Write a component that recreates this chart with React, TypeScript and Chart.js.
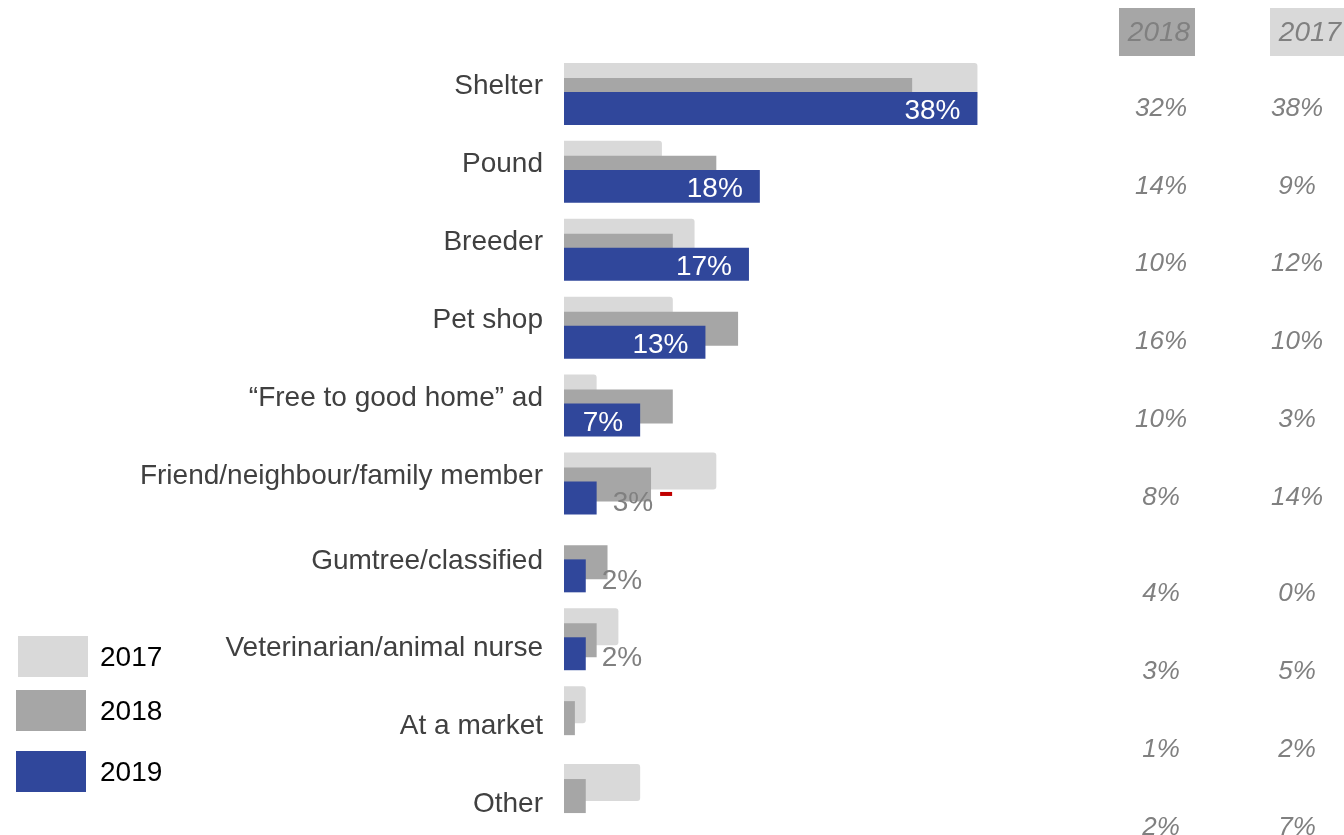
import React, { useEffect, useRef } from 'react';
import { Chart, registerables } from 'chart.js';

Chart.register(...registerables);

const categories = [
  'Shelter',
  'Pound',
  'Breeder',
  'Pet shop',
  '\u201CFree to good home\u201D ad',
  'Friend/neighbour/family member',
  'Gumtree/classified',
  'Veterinarian/animal nurse',
  'At a market',
  'Other',
];
const values2017 = [38, 9, 12, 10, 3, 14, 0, 5, 2, 7];
const values2018 = [32, 14, 10, 16, 10, 8, 4, 3, 1, 2];
const values2019 = [38, 18, 17, 13, 7, 3, 2, 2, 0, 0];
const seriesLabels = ['2017', '2018', '2019'];
const tableHeaders = ['2018', '2017'];

const FONT = "'Liberation Sans', Arial, sans-serif";
const COLORS = ['#D9D9D9', '#A6A6A6', '#30479B'];
const SLOT_PCT = 0.52;

// vertical nudge of the category label relative to its band centre (layout only)
const labelShift = (i: number) => (i < 6 ? -8.5 : i === 6 ? -1.5 : 8);
// vertical nudge of the right-hand table rows (layout only)
const tableShift = (i: number) => (i < 6 ? 13.5 : 31.5);

const overlayPlugin = {
  id: 'overlay',
  beforeDatasetsDraw(chart: any) {
    // draw in dataset order so 2019 ends on top, 2017 underneath
    for (let i = 0; i < chart.data.datasets.length; i++) {
      const meta = chart.getDatasetMeta(i);
      if (meta.visible !== false) meta.controller.draw();
    }
    return false;
  },
  afterDraw(chart: any) {
    const ctx = chart.ctx;
    const yScale = chart.scales.y;
    const left = chart.chartArea.left;
    ctx.save();

    // category labels
    ctx.font = `28px ${FONT}`;
    ctx.fillStyle = '#404040';
    ctx.textAlign = 'right';
    ctx.textBaseline = 'middle';
    (chart.data.labels as string[]).forEach((lab, i) => {
      ctx.fillText(lab, left - 21, yScale.getPixelForValue(i) + labelShift(i));
    });

    // 2019 bar labels
    const meta = chart.getDatasetMeta(2);
    const ds = chart.data.datasets[2].data as number[];
    meta.data.forEach((el: any, i: number) => {
      const v = ds[i];
      if (!v) return;
      const { x, y } = el.getProps(['x', 'y'], true);
      const txt = `${v}%`;
      if (v >= 5) {
        ctx.fillStyle = '#FFFFFF';
        ctx.textAlign = 'right';
        ctx.fillText(txt, x - 17, y + 3);
      } else {
        ctx.fillStyle = '#808080';
        ctx.textAlign = 'left';
        ctx.fillText(txt, x + 16, y + 5);
        if (i === 5) {
          const w = ctx.measureText(txt).width;
          ctx.fillStyle = '#C00000';
          ctx.fillRect(x + 16 + w + 7, y - 6, 12, 4);
        }
      }
    });

    // right-hand table
    const colX = [1161, 1297];
    const cols = [values2018, values2017];
    ctx.fillStyle = COLORS[1];
    ctx.fillRect(1119, 8, 76, 48);
    ctx.fillStyle = COLORS[0];
    ctx.fillRect(1270, 8, 80, 48);
    ctx.font = `italic 28px ${FONT}`;
    ctx.fillStyle = '#808080';
    ctx.textAlign = 'center';
    ctx.textBaseline = 'middle';
    ctx.fillText(tableHeaders[0], 1159, 33);
    ctx.fillText(tableHeaders[1], 1310, 33);
    ctx.font = `italic 26px ${FONT}`;
    categories.forEach((_, i) => {
      const cy = yScale.getPixelForValue(i) + tableShift(i);
      cols.forEach((arr, c) => {
        ctx.fillText(`${arr[i]}%`, colX[c], cy);
      });
    });

    // legend
    const boxes = [
      { x: 18, y: 636 },
      { x: 16, y: 690 },
      { x: 16, y: 751 },
    ];
    ctx.font = `28px ${FONT}`;
    ctx.textAlign = 'left';
    ctx.textBaseline = 'middle';
    chart.data.datasets.forEach((d: any, i: number) => {
      const b = boxes[i];
      ctx.fillStyle = d.backgroundColor;
      ctx.fillRect(b.x, b.y, 70, 41);
      ctx.fillStyle = '#000000';
      ctx.fillText(d.label, 100, b.y + 22);
    });

    ctx.restore();
  },
};

export default function App() {
  const canvasRef = useRef<HTMLCanvasElement | null>(null);

  useEffect(() => {
    document.body.style.margin = '0';
    const canvas = canvasRef.current;
    if (!canvas) return;
    const chart = new Chart(canvas, {
      type: 'bar',
      data: {
        labels: categories,
        datasets: [
          {
            label: seriesLabels[0],
            data: values2017,
            backgroundColor: COLORS[0],
            categoryPercentage: SLOT_PCT,
            barPercentage: 2.74,
            borderRadius: 3,
          },
          {
            label: seriesLabels[1],
            data: values2018,
            backgroundColor: COLORS[1],
            categoryPercentage: SLOT_PCT,
            barPercentage: 2.52,
          },
          {
            label: seriesLabels[2],
            data: values2019,
            backgroundColor: COLORS[2],
            categoryPercentage: SLOT_PCT,
            barPercentage: 2.44,
          },
        ],
      },
      options: {
        indexAxis: 'y',
        animation: false,
        responsive: true,
        maintainAspectRatio: false,
        events: [],
        layout: { padding: { top: 56, right: 236, bottom: 0, left: 564 } },
        plugins: {
          legend: { display: false },
          tooltip: { enabled: false },
        },
        scales: {
          x: { display: false, min: 0, max: 50 },
          y: { type: 'category', display: false },
        },
      } as any,
      plugins: [overlayPlugin],
    });
    return () => chart.destroy();
  }, []);

  return (
    <div style={{ position: 'relative', width: 1344, height: 835 }}>
      <canvas ref={canvasRef} />
    </div>
  );
}
